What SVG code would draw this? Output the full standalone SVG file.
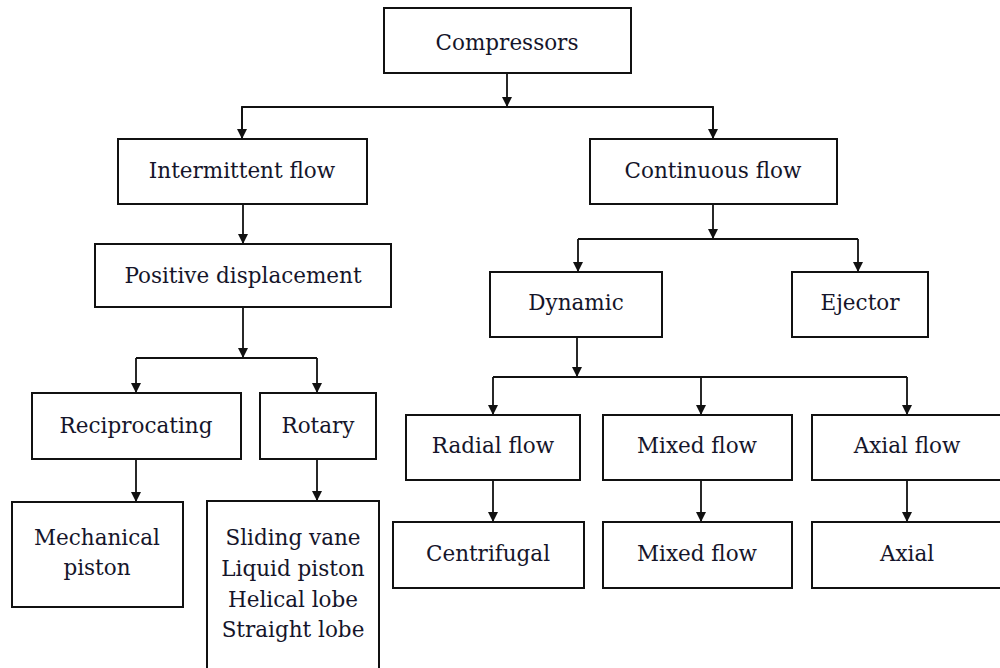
<svg xmlns="http://www.w3.org/2000/svg" width="1000" height="668" viewBox="0 0 1000 668">
<defs>
<marker id="ah" markerUnits="userSpaceOnUse" markerWidth="11" markerHeight="12" refX="10" refY="6" orient="auto" viewBox="0 0 11 12">
<path d="M0,1 L10,6 L0,11 Z" fill="#111"/>
</marker>
<style>
.box{fill:#fff;stroke:#111;stroke-width:2}
.t{font-family:"DejaVu Serif","Liberation Serif",serif;font-size:21.5px;fill:#15152a;text-anchor:middle}
.c{fill:none;stroke:#111;stroke-width:1.8}
.a{marker-end:url(#ah)}
</style>
</defs>
<rect width="1000" height="668" fill="#fff"/>
<g id="connectors">
<path class="c a" d="M507,73 V107"/>
<path class="c" d="M242,138 V107 H713 V138"/>
<path class="c a" d="M242,107 V139"/>
<path class="c a" d="M713,107 V139"/>
<path class="c a" d="M243,204 V244"/>
<path class="c a" d="M713,204 V239"/>
<path class="c" d="M578,239 H858"/>
<path class="c a" d="M578,239 V272"/>
<path class="c a" d="M858,239 V272"/>
<path class="c a" d="M243,307 V358"/>
<path class="c" d="M136,358 H317"/>
<path class="c a" d="M136,358 V393"/>
<path class="c a" d="M317,358 V393"/>
<path class="c a" d="M136,459 V502"/>
<path class="c a" d="M317,459 V501"/>
<path class="c a" d="M577,337 V377"/>
<path class="c" d="M493,377 H907"/>
<path class="c a" d="M493,377 V415"/>
<path class="c a" d="M701,377 V415"/>
<path class="c a" d="M907,377 V415"/>
<path class="c a" d="M493,480 V522"/>
<path class="c a" d="M701,480 V522"/>
<path class="c a" d="M907,480 V522"/>
</g>
<g id="compressors"><rect class="box" x="384" y="8" width="247" height="65"/><text class="t" x="507" y="50">Compressors</text></g>
<g id="intermittent"><rect class="box" x="118" y="139" width="249" height="65"/><text class="t" x="242" y="178">Intermittent flow</text></g>
<g id="continuous"><rect class="box" x="590" y="139" width="247" height="65"/><text class="t" x="713" y="178">Continuous flow</text></g>
<g id="positive"><rect class="box" x="95" y="244" width="296" height="63"/><text class="t" x="243" y="283">Positive displacement</text></g>
<g id="dynamic"><rect class="box" x="490" y="272" width="172" height="65"/><text class="t" x="576" y="310">Dynamic</text></g>
<g id="ejector"><rect class="box" x="792" y="272" width="136" height="65"/><text class="t" x="860" y="310">Ejector</text></g>
<g id="reciprocating"><rect class="box" x="32" y="393" width="209" height="66"/><text class="t" x="136" y="433">Reciprocating</text></g>
<g id="rotary"><rect class="box" x="260" y="393" width="116" height="66"/><text class="t" x="318" y="433">Rotary</text></g>
<g id="mechanical"><rect class="box" x="12" y="502" width="171" height="105"/><text class="t" x="97" y="545">Mechanical</text><text class="t" x="97" y="575">piston</text></g>
<g id="rotarytypes"><rect class="box" x="207" y="501" width="172" height="200"/><text class="t" x="293" y="545">Sliding vane</text><text class="t" x="293" y="576">Liquid piston</text><text class="t" x="293" y="607">Helical lobe</text><text class="t" x="293" y="637">Straight lobe</text></g>
<g id="radial"><rect class="box" x="406" y="415" width="174" height="65"/><text class="t" x="493" y="453">Radial flow</text></g>
<g id="mixed"><rect class="box" x="603" y="415" width="189" height="65"/><text class="t" x="697" y="453">Mixed flow</text></g>
<g id="axialflow"><rect class="box" x="812" y="415" width="190" height="65"/><text class="t" x="907" y="453">Axial flow</text></g>
<g id="centrifugal"><rect class="box" x="393" y="522" width="191" height="66"/><text class="t" x="488" y="561">Centrifugal</text></g>
<g id="mixed2"><rect class="box" x="603" y="522" width="189" height="66"/><text class="t" x="697" y="561">Mixed flow</text></g>
<g id="axial"><rect class="box" x="812" y="522" width="190" height="66"/><text class="t" x="907" y="561">Axial</text></g>
</svg>
